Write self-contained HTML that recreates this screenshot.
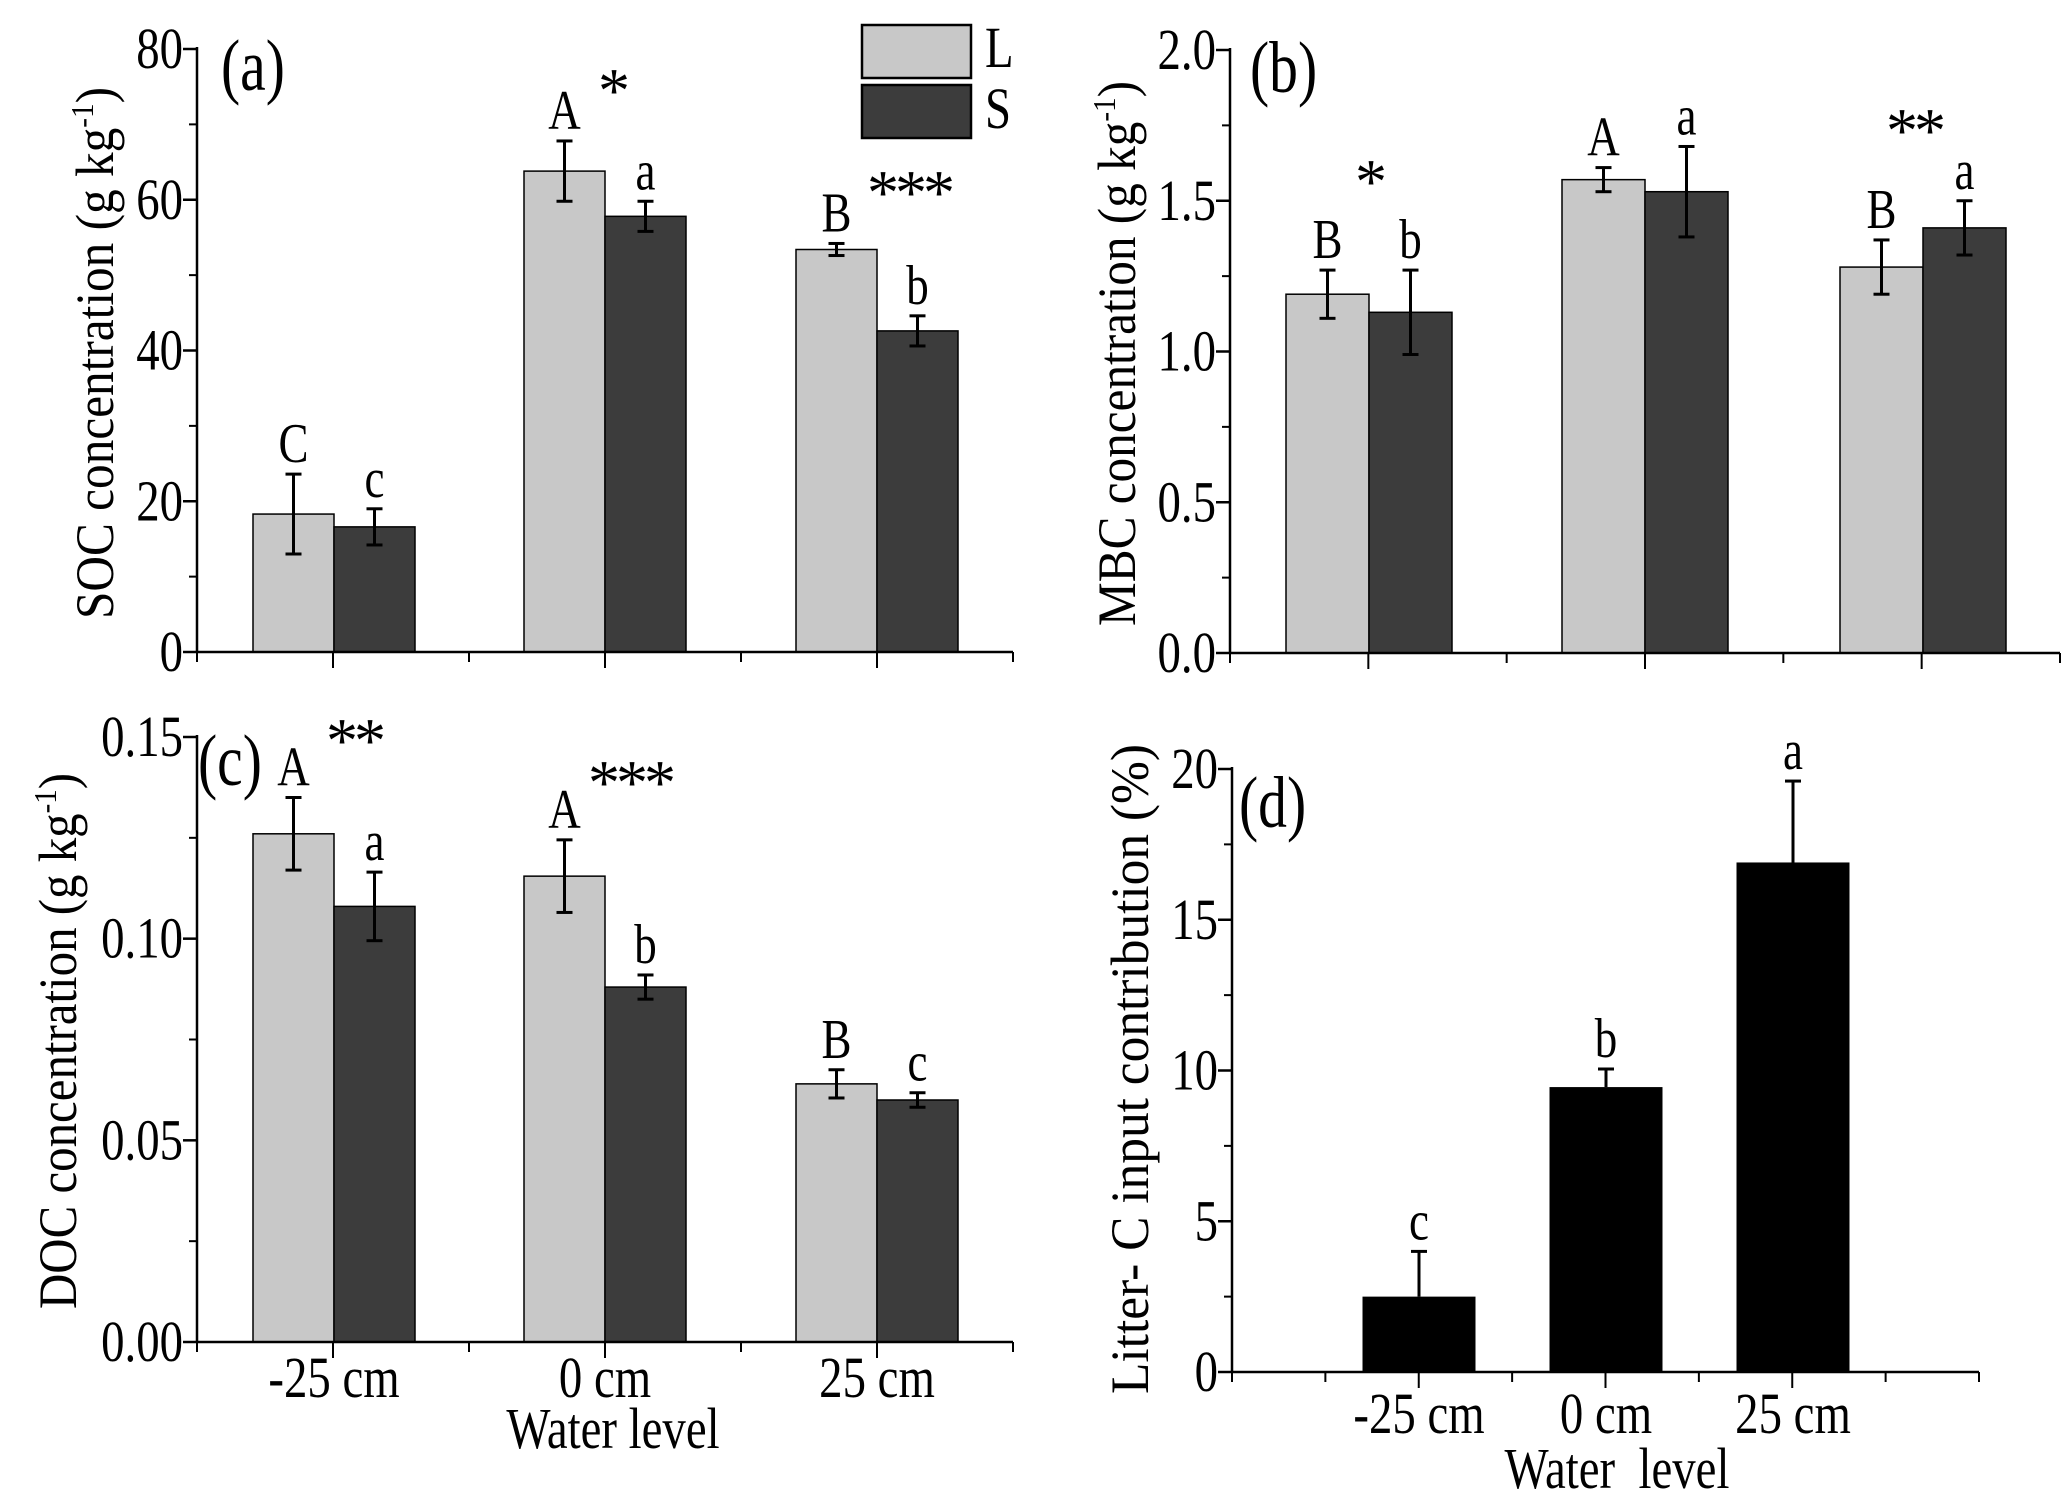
<!DOCTYPE html>
<html><head><meta charset="utf-8"><style>
html,body{margin:0;padding:0;background:#fff;}
svg{display:block;font-family:"Liberation Serif","Times New Roman",serif;}
</style></head><body>
<svg id="fig" width="2067" height="1508" viewBox="0 0 2067 1508" xmlns="http://www.w3.org/2000/svg"></svg>
<script>
const categories = ['-25 cm','0 cm','25 cm'];
// Panel a: SOC
const socL = [18.3, 63.8, 53.4];
const socS = [16.6, 57.8, 42.6];
const socLErr = [5.3, 4.0, 0.8];
const socSErr = [2.4, 2.0, 2.0];
const socLLetters = ['C','A','B'];
const socSLetters = ['c','a','b'];
const socTicks = [0,20,40,60,80];
// Panel b: MBC
const mbcL = [1.19, 1.57, 1.28];
const mbcS = [1.13, 1.53, 1.41];
const mbcLErr = [0.08, 0.04, 0.09];
const mbcSErr = [0.14, 0.15, 0.09];
const mbcLLetters = ['B','A','B'];
const mbcSLetters = ['b','a','a'];
const mbcTicks = ['0.0','0.5','1.0','1.5','2.0'];
// Panel c: DOC
const docL = [0.126, 0.1155, 0.064];
const docS = [0.108, 0.088, 0.060];
const docLErr = [0.009, 0.009, 0.0035];
const docSErr = [0.0085, 0.003, 0.0018];
const docLLetters = ['A','A','B'];
const docSLetters = ['a','b','c'];
const docTicks = ['0.00','0.05','0.10','0.15'];
// Panel d: litter-C
const litVals = [2.5, 9.45, 16.9];
const litErr = [1.5, 0.6, 2.7];
const litLetters = ['c','b','a'];
const litTicks = [0,5,10,15,20];

const NS='http://www.w3.org/2000/svg';
const svg=document.getElementById('fig');
function mk(tag,attrs,parent,text){
  const e=document.createElementNS(NS,tag);
  for(const k in attrs) e.setAttribute(k,attrs[k]);
  if(text!==undefined) e.textContent=text;
  (parent||svg).appendChild(e);
  return e;
}
function line(x1,y1,x2,y2,w,p){return mk('line',{x1,y1,x2,y2,stroke:'#000','stroke-width':w||2.5},p);}
// tall, narrow text like the reference
function txt(p,x,y,s,fs,anchor,sx,sy){
  return mk('text',{x:0,y:0,'font-size':fs,'text-anchor':anchor||'middle',
    transform:`translate(${x},${y}) scale(${sx||0.9},${sy||1.12})`,style:'white-space:pre'},p,s);
}

function yAxis(p,x0,yTop,yBot,ticks,maxV){
  const ax=line(x0,yTop-2,x0,yBot+1,2.5,p);
  
  
  const n=ticks.length-1;
  for(let i=0;i<=n;i++){
    const v=parseFloat(ticks[i]);
    const y=yBot-(v/maxV)*(yBot-yTop);
    line(x0-14,y,x0,y,2.5,p);
    const t=txt(p,x0-14,y+19,String(ticks[i]),52,'end');
    
    
    if(i<n){const ym=y-(yBot-yTop)/n/2; line(x0-8,ym,x0,ym,2,p);}
  }
}
function xAxis(p,x0,x1,y0,nInt,majorIdx){
  const ax=line(x0,y0,x1,y0,2.5,p);
  
  
  for(let i=0;i<=nInt;i++){
    const x=x0+(x1-x0)*i/nInt;
    const major=majorIdx.includes(i);
    line(x,y0,x,y0+(major?16:10),2,p);
  }
}
function errBar(p,x,yv,ye,both){
  line(x,ye,x,both?2*yv-ye:yv,3,p);
  line(x-8,ye,x+8,ye,3,p);
  if(both) line(x-8,2*yv-ye,x+8,2*yv-ye,3,p);
}
function label(p,x,y,s,name,fs){
  const t=txt(p,x,y,s,fs||50,'middle');
  
  
}
function star(p,x,y,s,name){
  const t=mk('text',{x,y,'font-size':64,'text-anchor':'middle','letter-spacing':'-4'},p,s);
  
  
}
function yTitle(p,cx,y1,y2,html){
  const cy=(y1+y2)/2, len=y1-y2;
  const t=mk('text',{x:0,y:0,'font-size':54,'text-anchor':'middle',
    transform:`translate(${cx+17},${cy}) rotate(-90)`,textLength:len,lengthAdjust:'spacingAndGlyphs'},p);
  
  
  t.innerHTML=html;
}
function panelLabel(p,x,y,s,name){
  const t=txt(p,x,y,s,64,'start',0.9,1.15);
  
  
}

function groupedPanel(name,opt){
  const g=mk('g',{});
  
  
  const {x0,x1,yTop,yBot,maxV,ticks,L,S,LE,SE,LL,SL,cx,bw}=opt;
  const ys=v=>yBot-(v/maxV)*(yBot-yTop);
  for(let i=0;i<categories.length;i++){
    const c=cx[i];
    const rl=mk('rect',{x:c-bw,y:ys(L[i]),width:bw,height:yBot-ys(L[i]),fill:'#c8c8c8',stroke:'#000','stroke-width':1.5},g);
    
    
    const rs=mk('rect',{x:c,y:ys(S[i]),width:bw,height:yBot-ys(S[i]),fill:'#3c3c3c',stroke:'#000','stroke-width':1.5},g);
    
    
    errBar(g,c-bw/2,ys(L[i]),ys(L[i]+LE[i]),true);
    errBar(g,c+bw/2,ys(S[i]),ys(S[i]+SE[i]),true);
    label(g,c-bw/2,ys(L[i]+LE[i])-12,LL[i],'letter-l-'+i);
    label(g,c+bw/2,ys(S[i]+SE[i])-12,SL[i],'letter-s-'+i);
  }
  xAxis(g,x0,x1,yBot,6,[1,3,5]);
  yAxis(g,x0,yTop,yBot,ticks,maxV);
  return g;
}
const SUP='<tspan dy="-20" font-size="32">-1</tspan><tspan dy="20">)</tspan>';

// Panel a
const ga=groupedPanel('panel-a-soc',{x0:197,x1:1013,yTop:49,yBot:652,maxV:80,ticks:socTicks,
  L:socL,S:socS,LE:socLErr,SE:socSErr,LL:socLLetters,SL:socSLetters,cx:[334,605,877],bw:81});
yTitle(ga,96,619,87,'SOC concentration (g kg'+SUP);
panelLabel(ga,221,90,'(a)','panel-label-a');
star(ga,612,112,'*','sig-a-0');
star(ga,909,214,'***','sig-a-25');
// legend
const lg=mk('g',{});


mk('rect',{x:862,y:25,width:109,height:53,fill:'#c8c8c8',stroke:'#000','stroke-width':2.5},lg);
mk('rect',{x:862,y:85,width:109,height:53,fill:'#3c3c3c',stroke:'#000','stroke-width':2.5},lg);
txt(lg,985,67,'L',52,'start');
txt(lg,985,128,'S',52,'start');

// Panel b
const gb=groupedPanel('panel-b-mbc',{x0:1230,x1:2060,yTop:50,yBot:653,maxV:2.0,ticks:mbcTicks,
  L:mbcL,S:mbcS,LE:mbcLErr,SE:mbcSErr,LL:mbcLLetters,SL:mbcSLetters,cx:[1369,1645,1923],bw:83});
yTitle(gb,1118,626,81,'MBC concentration (g kg'+SUP);
panelLabel(gb,1250,92,'(b)','panel-label-b');
star(gb,1369,203,'*','sig-b-m25');
star(gb,1914,152,'**','sig-b-25');

// Panel c
const gc=groupedPanel('panel-c-doc',{x0:197,x1:1013,yTop:737,yBot:1342,maxV:0.15,ticks:docTicks,
  L:docL,S:docS,LE:docLErr,SE:docSErr,LL:docLLetters,SL:docSLetters,cx:[334,605,877],bw:81});
yTitle(gc,59,1309,773,'DOC concentration (g kg'+SUP);
panelLabel(gc,198,785,'(c)','panel-label-c');
star(gc,354,762,'**','sig-c-m25');
star(gc,630,804,'***','sig-c-0');
[334,605,877].forEach((x,i)=>label(gc,x,1397,categories[i],'x-tick-label-c',52));
label(gc,613,1448,'Water level','x-axis-title-c',52);

// Panel d
const gd=mk('g',{});


(function(){
  const x0=1232,x1=1979,yTop=769,yBot=1372,maxV=20,cx=[1419,1606,1793],bw=113;
  const ys=v=>yBot-(v/maxV)*(yBot-yTop);
  for(let i=0;i<litVals.length;i++){
    const r=mk('rect',{x:cx[i]-bw/2,y:ys(litVals[i]),width:bw,height:yBot-ys(litVals[i]),fill:'#000'},gd);
    
    
    errBar(gd,cx[i],ys(litVals[i]),ys(litVals[i]+litErr[i]),false);
    label(gd,cx[i],ys(litVals[i]+litErr[i])-12,litLetters[i],'letter-d-'+i);
    label(gd,cx[i],1433,categories[i],'x-tick-label-d',52);
  }
  xAxis(gd,x0,x1,yBot,8,[2,4,6]);
  yAxis(gd,x0,yTop,yBot,litTicks,maxV);
})();
yTitle(gd,1131,1394,744,'Litter- C input contribution (%)');
panelLabel(gd,1239,827,'(d)','panel-label-d');
label(gd,1617,1488,'Water  level','x-axis-title-d',52);
</script>
</body></html>
